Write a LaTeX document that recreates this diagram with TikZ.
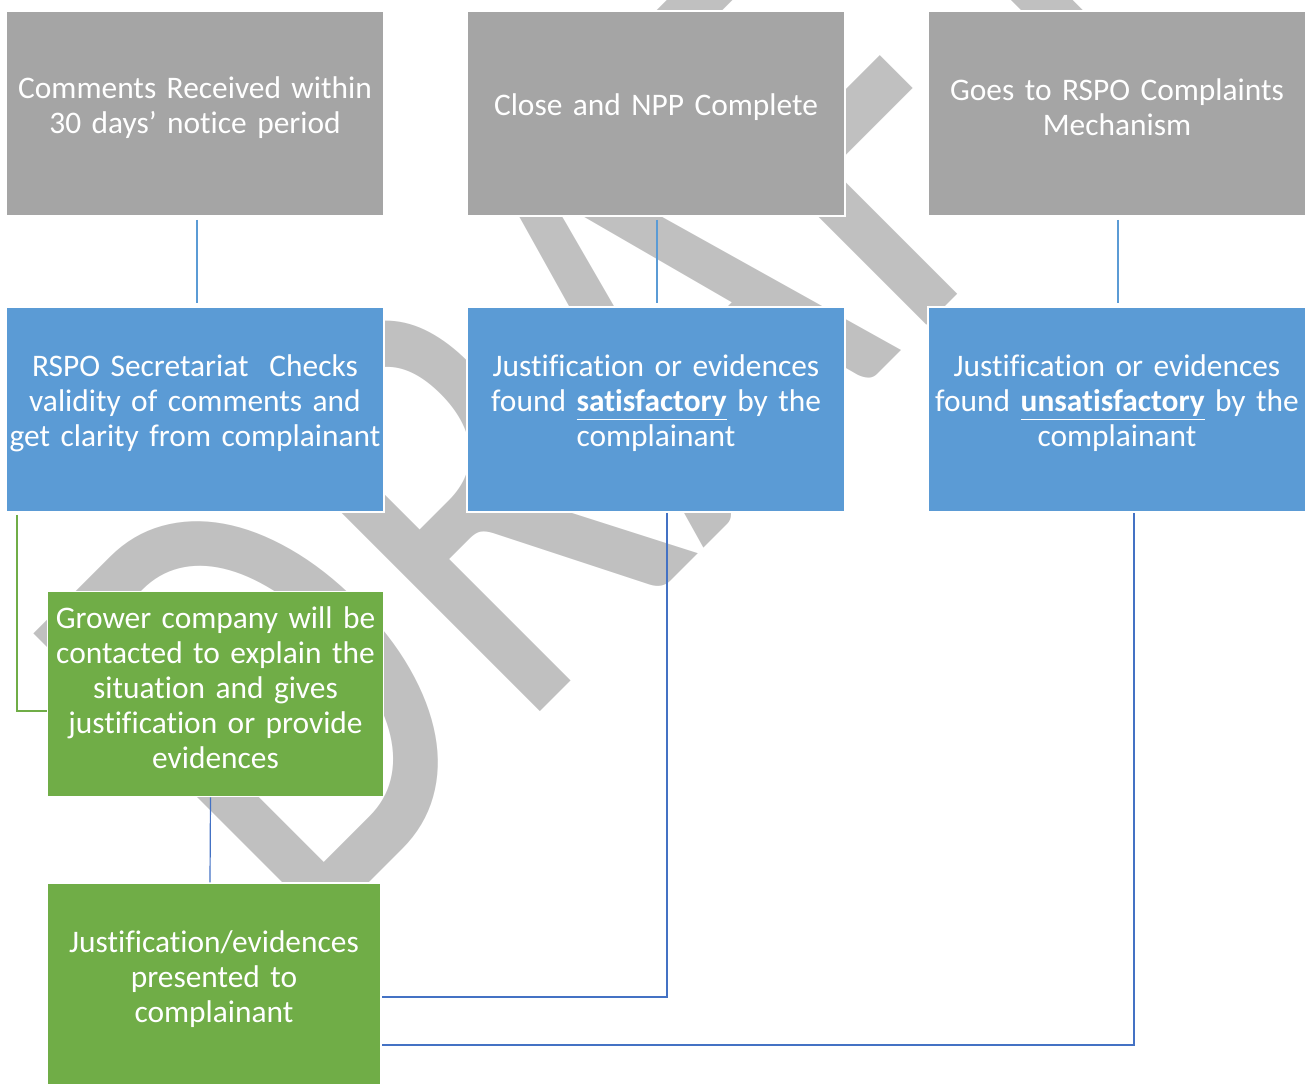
\documentclass[tikz,border=0pt]{standalone}
\usepackage{fontspec}
\setmainfont{Carlito}[Ligatures={NoCommon}, WordSpace=0.85]
\usetikzlibrary{calc}
\definecolor{boxgray}{HTML}{A5A5A5}
\definecolor{boxblue}{HTML}{5B9BD5}
\definecolor{boxgreen}{HTML}{70AD47}
\definecolor{linkblue}{HTML}{4472C4}
\definecolor{wmgray}{HTML}{C0C0C0}
\tikzset{
  box/.style={rectangle, draw=white, line width=0.75pt, inner sep=0pt,
    text=white, align=center, minimum height=102.5pt,
    font=\fontsize{15.7}{17.5}\selectfont,
    execute at end node={\par\kern6pt}},
  graybox/.style={box, fill=boxgray, minimum width=189pt, text width=189pt},
  bluebox/.style={box, fill=boxblue, minimum width=189pt, text width=189pt},
  greenbox/.style={box, fill=boxgreen, minimum width=168pt, text width=167pt},
  toplink/.style={boxblue, line width=1pt},
  grlink/.style={boxgreen, line width=1pt},
  lowlink/.style={linkblue, line width=0.6pt}
}
\begin{document}
\begin{tikzpicture}[x=0.5pt,y=-0.5pt]
  \useasboundingbox (0,0) rectangle (1310,1083);
  % watermark
  \node[wmgray, anchor=base west, rotate=45, xscale=0.76, inner sep=0pt,
    font=\fontsize{322}{322}\selectfont] (wm) at (302,950) {DRAFT};
  % top row
  \node[graybox] (recv) at (195,113.5) {Comments Received within\\30 days’ notice period};
  \node[graybox] (close) at (656,113.5) {Close and NPP Complete};
  \node[graybox] (mech) at (1117,113.5) {Goes to RSPO Complaints\\Mechanism};
  % middle row
  \node[bluebox] (check) at (195,409.5) {RSPO Secretariat\ \ Checks\\validity of comments and\\get clarity from complainant};
  \node[bluebox] (sat) at (656,409.5) {Justification or evidences\\found \underline{\textbf{satisfactory}} by the\\complainant};
  \node[bluebox] (unsat) at (1117,409.5) {Justification or evidences\\found \underline{\textbf{unsatisfactory}} by the\\complainant};
  % left column
  \node[greenbox] (grow) at (215.5,694) {Grower company will be\\contacted to explain the\\situation and gives\\justification or provide\\evidences};
  \node[greenbox, minimum width=167pt] (pres) at (214,985.5) {Justification/evidences\\presented to\\complainant};
  % links
  \draw[toplink] (recv.south) ++(2,3) -- ($(check.north)+(2,-3)$);
  \draw[toplink] (close.south) ++(1,3) -- ($(sat.north)+(1,-3)$);
  \draw[toplink] (mech.south) ++(1,3) -- ($(unsat.north)+(1,-3)$);
  \draw[grlink] (check.south west) ++(12,2) |- ($(grow.west)+(0,17)$);
  \draw[lowlink] ($(grow.south)+(-5,0)$) -- ($(pres.north)+(-4,0)$);
  \draw[lowlink] ($(sat.south)+(11,0)$) |- ($(pres.east)+(0,11.5)$);
  \draw[lowlink] ($(unsat.south)+(17,0)$) |- ($(pres.east)+(0,59.5)$);
\end{tikzpicture}
\end{document}
